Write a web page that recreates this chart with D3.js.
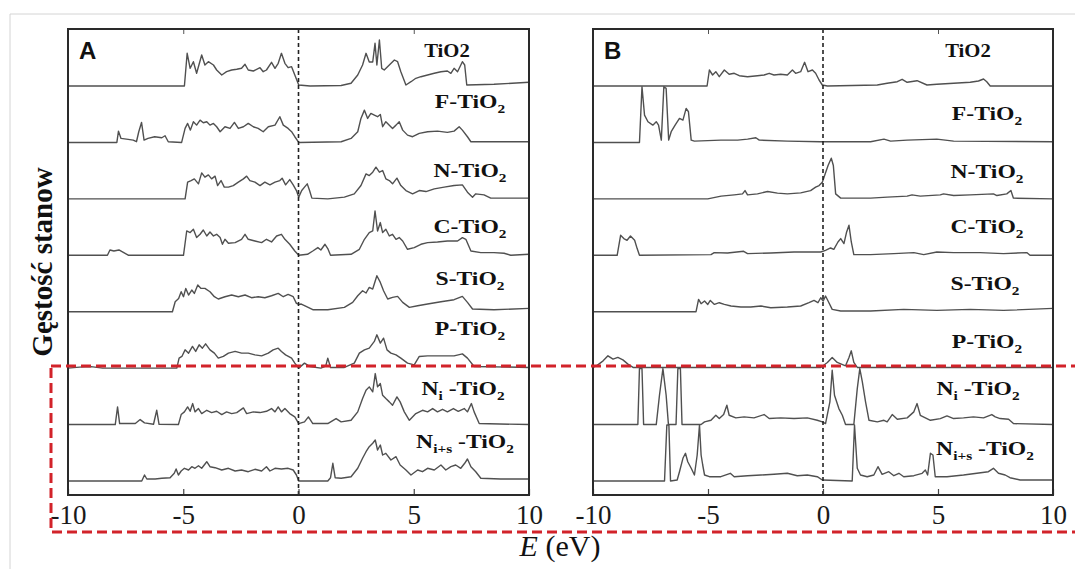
<!DOCTYPE html>
<html>
<head>
<meta charset="utf-8">
<script src="https://cdn.jsdelivr.net/npm/d3@7"></script>
<style>
  body { margin: 0; background: #fff; }
  svg { display: block; }
</style>
</head>
<body>
<div class="chart"></div>
<script>
// energy axis ticks
var energyTicks = [-10, -5, 0, 5, 10];

// series names, top to bottom (parts: text + subscript flag)
var seriesLabels = [
    [["TiO2", false]],
    [["F-TiO", false], ["2", true]],
    [["N-TiO", false], ["2", true]],
    [["C-TiO", false], ["2", true]],
    [["S-TiO", false], ["2", true]],
    [["P-TiO", false], ["2", true]],
    [["N", false], ["i", true], [" -TiO", false], ["2", true]],
    [["N", false], ["i+s", true], [" -TiO", false], ["2", true]]
];

// panel A: [E (eV), DOS (a.u.)]
var A_TiO2 = [[-10,0],[-4.95,0],[-4.83,32.7],[-4.70,17.7],[-4.56,24.3],[-4.42,12.7],[-4.20,31],[-4.06,21],[-3.91,24.3],[-3.69,21],[-3.55,16],[-3.33,11],[-3.12,14.3],[-2.90,16],[-2.68,16.7],[-2.47,17.7],[-2.32,21.7],[-2.18,16],[-1.96,15],[-1.67,18.3],[-1.53,14.3],[-1.39,16],[-1.17,23.7],[-1.02,17.7],[-0.88,22.7],[-0.74,32.7],[-0.59,22.7],[-0.45,18.3],[-0.30,19.3],[-0.16,11],[0.01,1],[0.5,0],[1.85,0.5],[2.28,2.7],[2.57,11],[2.78,21],[2.93,32.7],[3.07,24],[3.22,24],[3.32,42.7],[3.40,21],[3.51,46],[3.61,17.7],[3.72,16],[3.94,21],[4.16,26],[4.30,24.3],[4.44,14.3],[4.66,1],[4.88,4.3],[5.09,7.7],[5.31,9.3],[5.60,11],[5.89,12.7],[6.18,14.3],[6.46,15],[6.61,12.7],[6.75,17.7],[6.90,14.3],[7.11,24.3],[7.21,21],[7.30,1],[8.48,1.7],[10,3.7]];
var A_F = [[-10,0],[-7.88,0],[-7.81,11.3],[-7.70,4],[-7.39,3],[-7.17,2.3],[-7.03,0.7],[-6.93,10.7],[-6.81,20],[-6.70,2.3],[-6.53,4],[-6.24,5.7],[-5.93,4.7],[-5.79,6.7],[-5.65,0.7],[-5.07,0],[-4.92,14],[-4.81,19],[-4.69,12.3],[-4.56,20.7],[-4.42,17.3],[-4.27,22.3],[-4.13,19.7],[-3.98,20.7],[-3.84,17.3],[-3.69,19],[-3.55,15.7],[-3.40,10.7],[-3.19,15.7],[-2.97,14],[-2.78,20],[-2.61,14],[-2.39,15.7],[-2.18,19],[-1.96,15.7],[-1.75,14],[-1.53,10.7],[-1.31,15.7],[-1.02,17.3],[-0.81,25.7],[-0.66,17.3],[-0.45,14],[-0.30,10.7],[-0.16,5.7],[0.01,0],[1.85,0.7],[2.28,4],[2.57,10.7],[2.71,24],[2.86,32.3],[3.00,24],[3.14,29],[3.29,27.3],[3.43,25.7],[3.55,28],[3.65,15.7],[3.79,20.7],[3.94,17.3],[4.08,14],[4.23,17.3],[4.37,20.7],[4.52,12.3],[4.73,7.3],[4.95,5.7],[5.24,9],[5.60,10.7],[6.03,11.3],[6.46,10],[6.75,11.3],[6.97,15.7],[7.11,12.3],[7.33,5.7],[7.48,0.7],[10,0.7]];
var A_N = [[-10,0],[-4.92,0],[-4.81,16.7],[-4.66,18.3],[-4.52,20],[-4.34,15],[-4.20,26],[-4.06,21.7],[-3.91,24],[-3.77,20],[-3.62,22.7],[-3.51,13.3],[-3.36,18.3],[-3.22,11.7],[-3.04,11.7],[-2.83,13.3],[-2.61,16.7],[-2.39,20],[-2.25,22.7],[-2.11,18.3],[-1.89,16.7],[-1.67,13.3],[-1.46,16.7],[-1.24,14],[-1.02,16.7],[-0.81,18.3],[-0.71,20.7],[-0.56,14],[-0.38,19.3],[-0.23,14],[-0.09,8.3],[0.01,1.7],[0.14,8.3],[0.26,11.7],[0.38,15],[0.48,8.3],[0.58,0.7],[1.27,0],[1.99,1.7],[2.42,5],[2.71,13.3],[2.93,25],[3.07,23.3],[3.22,26.7],[3.36,31.7],[3.51,26.7],[3.65,28.3],[3.79,20],[3.94,18.3],[4.08,15],[4.27,20.7],[4.44,13.3],[4.66,8.3],[4.95,5],[5.24,8.3],[5.53,7.3],[5.89,10],[6.32,11.7],[6.75,13.3],[7.11,14],[7.33,6.7],[7.55,1.7],[7.69,5],[8.05,4],[8.34,0.7],[10,0.7]];
var A_C = [[-10,0],[-8.29,0],[-8.18,5.3],[-8.01,4.3],[-7.79,5.3],[-7.58,2.7],[-7.37,0],[-4.99,0],[-4.85,24.3],[-4.70,22.7],[-4.56,26],[-4.42,17.7],[-4.27,21],[-4.13,25.3],[-3.98,19.3],[-3.84,23.3],[-3.69,19.3],[-3.55,21],[-3.40,17.7],[-3.30,11],[-3.19,16],[-3.04,12],[-2.75,12.7],[-2.47,16],[-2.32,21],[-2.18,16],[-1.89,14.3],[-1.60,12.7],[-1.39,16],[-1.17,13.3],[-0.95,19.3],[-0.74,21],[-0.59,16],[-0.38,11],[-0.16,4.3],[0.01,0],[0.39,1],[0.62,4.3],[0.84,7.7],[0.97,5.3],[1.15,11],[1.27,6.7],[1.39,0],[2.28,1],[2.64,6],[2.86,16],[3.07,22.7],[3.22,24.3],[3.32,44.3],[3.43,24.3],[3.55,32.7],[3.65,22.7],[3.79,26],[3.94,19.3],[4.08,21],[4.23,16],[4.37,17.7],[4.52,14.3],[4.73,6],[5.02,7.7],[5.31,11],[5.60,12.7],[6.03,13.3],[6.46,14.3],[6.90,14.3],[7.11,17.7],[7.26,16],[7.48,4.3],[7.91,2.7],[8.48,2.7],[8.92,2],[9.21,0],[10,1]];
var A_S = [[-10,0],[-5.47,0],[-5.35,10],[-5.20,13.3],[-5.09,20],[-4.99,15],[-4.89,23.3],[-4.77,16.7],[-4.63,21.7],[-4.52,18.3],[-4.37,26.7],[-4.23,23.3],[-4.06,23.3],[-3.84,20],[-3.65,15],[-3.48,12.7],[-3.19,15],[-2.90,16.7],[-2.61,15],[-2.32,16.7],[-2.04,14],[-1.75,15],[-1.46,14],[-1.17,16],[-0.88,18.3],[-0.66,15],[-0.45,17.3],[-0.23,15],[-0.09,8.3],[0.01,7.3],[0.12,7.7],[0.33,5.3],[0.62,2],[1.27,2],[1.99,4.3],[2.35,9.3],[2.57,16],[2.78,21],[2.93,18.7],[3.07,24.3],[3.22,22.7],[3.40,36],[3.55,29.3],[3.69,21],[3.87,12.7],[4.08,14.3],[4.30,15.3],[4.52,9.3],[4.81,4.3],[5.17,6],[5.60,7.7],[6.18,10],[6.75,12],[7.11,15.3],[7.33,9.3],[7.55,2.7],[8.48,2],[10,3.3]];
var A_P = [[-10,0],[-9.5,1],[-9.0,1.5],[-8.5,0],[-5.28,0],[-5.18,10],[-5.06,11.7],[-4.92,18.3],[-4.77,15],[-4.60,21.7],[-4.46,16.7],[-4.31,23.3],[-4.17,20],[-4.03,24.3],[-3.84,18.3],[-3.65,15],[-3.48,10],[-3.26,11.7],[-3.04,15],[-2.75,16.7],[-2.47,15],[-2.18,15],[-1.89,13.3],[-1.60,12.3],[-1.31,15],[-1.10,18.3],[-0.88,20],[-0.74,16.7],[-0.56,13.3],[-0.30,10],[-0.16,5],[0.01,0],[0.26,5],[0.48,1.7],[0.97,0],[1.18,2],[1.27,10],[1.39,0.7],[1.99,0.7],[2.42,5],[2.64,15],[2.86,18.3],[3.07,20],[3.29,26.7],[3.40,33.3],[3.55,25],[3.69,30],[3.84,18.3],[4.01,15],[4.23,13.3],[4.44,10],[4.73,5],[5.02,3.3],[5.24,11.7],[5.60,12.3],[6.18,12.3],[6.75,12.3],[7.11,14.3],[7.33,10],[7.62,1.7],[10,0.7]];
var A_Ni = [[-10,0],[-7.95,0],[-7.85,17.7],[-7.76,1],[-7.08,1],[-6.87,5],[-6.68,1.7],[-6.29,0.3],[-6.15,14.3],[-6.05,0.3],[-5.21,0],[-5.09,10],[-4.95,12.7],[-4.81,17.7],[-4.70,13.3],[-4.59,21],[-4.49,12.7],[-4.34,16],[-4.20,11],[-3.98,14.3],[-3.77,12],[-3.55,13.3],[-3.33,10],[-3.12,12.7],[-2.90,11],[-2.68,12],[-2.39,16.7],[-2.25,11],[-1.96,12.7],[-1.67,12],[-1.39,13.3],[-1.17,16],[-1.02,12.7],[-0.88,17.7],[-0.74,12.7],[-0.59,16],[-0.38,11],[-0.16,7.7],[0.01,1],[0.26,2.7],[0.43,7.7],[0.62,1],[1.27,1],[1.63,6],[1.85,2.7],[2.28,4.3],[2.57,12.7],[2.78,26],[2.93,34.3],[3.07,37.7],[3.22,32.7],[3.33,51],[3.43,37.7],[3.55,41],[3.65,29.3],[3.79,26],[3.94,22.7],[4.08,19.3],[4.27,27.7],[4.41,22.7],[4.59,12.7],[4.81,4.3],[5.09,11],[5.38,14.3],[5.60,12.7],[5.82,16],[6.03,12.7],[6.25,15.3],[6.46,12.7],[6.72,16],[6.93,13.3],[7.19,16],[7.33,12.7],[7.50,21],[7.62,12.7],[7.84,1],[10,0]];
var A_Nis = [[-10,0],[-6.80,0],[-6.68,6],[-6.58,2],[-6.22,2],[-5.93,2.7],[-5.57,3.3],[-5.39,7.7],[-5.31,12],[-5.21,6],[-5.09,10],[-4.95,12.7],[-4.77,11],[-4.63,14.3],[-4.49,12.7],[-4.34,15.3],[-4.20,12.7],[-3.98,19.3],[-3.84,14.3],[-3.62,13.3],[-3.33,11],[-3.04,12.7],[-2.75,10],[-2.47,11],[-2.18,9.3],[-1.89,11.7],[-1.60,10],[-1.39,14.3],[-1.24,10],[-1.02,12.7],[-0.74,12],[-0.45,12.7],[-0.23,11],[-0.09,6],[0.01,0],[1.27,0],[1.39,3.3],[1.49,17.7],[1.59,3.3],[1.85,2.7],[2.28,4.3],[2.57,12.7],[2.78,22.7],[2.93,29.3],[3.07,34.3],[3.22,37.7],[3.33,41],[3.43,31],[3.55,36],[3.65,26],[3.79,27.7],[4.01,21],[4.23,24.3],[4.41,16],[4.66,11],[4.88,6],[5.17,11],[5.38,9.3],[5.60,12.7],[5.89,11],[6.18,16],[6.39,11],[6.61,14.3],[6.82,16],[7.04,12.7],[7.21,17.7],[7.33,22],[7.48,14.3],[7.69,9.3],[7.91,2.7],[8.77,2],[10,2]];

// panel B: [E (eV), DOS (a.u.)]
var B_TiO2 = [[-10,0],[-5.04,0],[-4.94,16],[-4.80,11],[-4.66,14.3],[-4.51,9.3],[-4.29,16],[-4.08,11.7],[-3.86,12.7],[-3.64,10.3],[-3.28,9.3],[-2.85,10.3],[-2.56,11],[-2.34,12.7],[-2.13,11],[-1.84,11.7],[-1.55,11],[-1.33,16],[-1.19,12.7],[-0.97,14.3],[-0.80,23.7],[-0.65,14.3],[-0.46,16],[-0.32,12.7],[-0.17,6],[-0.03,1],[0.19,0],[2.36,1],[2.79,2.7],[3.23,4.3],[3.44,6.7],[3.66,3.7],[4.09,5.3],[4.52,1],[4.95,1.7],[5.68,2.7],[6.40,3.7],[6.76,5],[6.98,7],[7.12,4.3],[7.27,0],[10,0]];
var B_F = [[-10,0],[-7.98,0],[-7.87,55.7],[-7.76,27.3],[-7.61,20.7],[-7.40,17.3],[-7.25,20.7],[-7.15,17.3],[-7.03,2.3],[-6.92,55.7],[-6.82,54],[-6.71,2.3],[-6.60,10.7],[-6.43,17.3],[-6.24,24],[-6.09,22.3],[-5.95,34],[-5.85,30.7],[-5.73,2.3],[-5.59,1.3],[-4.44,2.3],[-3.71,2.3],[-3.28,3.3],[-2.92,4.7],[-2.77,2.3],[-1.55,1.3],[-0.11,0.7],[2.07,0.7],[2.65,3.3],[2.94,1.3],[3.66,2.3],[4.95,3.3],[5.68,1.3],[10,0.7]];
var B_N = [[-10,0],[-5.01,0],[-4.43,2.7],[-3.86,4],[-3.50,5],[-3.39,8.3],[-3.28,4],[-2.85,5],[-2.41,7.3],[-1.98,5.7],[-1.55,5],[-0.97,6],[-0.54,8.3],[-0.32,11.7],[-0.17,13.3],[-0.03,16.7],[0.07,23.3],[0.22,33.3],[0.36,40.7],[0.45,33.3],[0.55,5],[0.77,0.7],[2.07,0.7],[2.79,1.7],[3.66,2.7],[3.87,4],[4.23,2.7],[5.10,4],[5.24,5],[5.68,3.3],[6.40,4],[7.41,5],[7.56,3.3],[7.99,5],[8.17,8.3],[8.28,0.7],[10,0]];
var B_C = [[-10,0],[-8.95,0],[-8.80,20],[-8.66,16.7],[-8.52,15],[-8.37,19.3],[-8.19,15],[-8.08,6.7],[-7.98,0],[-4.87,0.7],[-4.73,2.7],[-4.15,2.3],[-3.45,4],[-3.28,1.7],[-2.27,2.3],[-1.26,3.3],[-0.10,3.3],[0.11,5],[0.33,7.3],[0.47,6],[0.65,13.3],[0.77,16.7],[0.91,11.7],[1.02,22.7],[1.13,30],[1.23,13.3],[1.34,0.7],[2.07,0.7],[3.08,1.7],[3.95,2.7],[4.38,0.7],[4.95,3.3],[5.68,2.7],[6.83,2.7],[7.85,1.7],[8.86,2.7],[9.00,0],[10,0]];
var B_S = [[-10,0],[-5.52,0],[-5.41,12.3],[-5.30,8],[-5.15,10.7],[-5.01,7.3],[-4.90,11.3],[-4.72,7.3],[-4.51,9],[-4.29,7.3],[-4.00,5.7],[-3.57,4.7],[-3.14,4.7],[-2.70,5.7],[-2.27,4],[-1.55,4.7],[-0.97,5.7],[-0.61,9],[-0.39,11.3],[-0.22,9],[-0.10,14],[0.01,10.7],[0.11,15.7],[0.22,10.7],[0.40,2.3],[0.77,0.7],[2.07,0.7],[3.51,2.3],[4.95,1.3],[6.40,2.3],[7.85,1.3],[10,3.3]];
var B_P = [[-10,0.7],[-9.85,2.3],[-9.56,7.3],[-9.35,12.3],[-9.13,9],[-8.92,10.7],[-8.70,8.3],[-8.48,4],[-8.26,0.7],[-0.10,0.7],[0.19,5.7],[0.40,10.7],[0.62,5.7],[0.98,2.3],[1.13,10.7],[1.23,17.3],[1.34,5.7],[1.49,0.7],[10,0.7]];
var B_Ni = [[-10,0],[-8.05,0],[-7.98,56],[-7.87,56],[-7.80,0],[-7.25,0],[-7.11,29.3],[-6.96,56],[-6.82,29.3],[-6.72,0],[-6.39,0],[-6.31,56],[-6.20,56],[-6.13,0],[-5.30,0],[-5.15,2.7],[-4.87,4.3],[-4.66,9.3],[-4.51,6],[-4.32,10],[-4.18,19.3],[-4.08,9.3],[-3.79,6.7],[-3.43,7.7],[-3.00,6.7],[-2.56,10],[-2.34,6],[-1.84,6.7],[-1.26,6],[-0.68,6.7],[-0.25,4.3],[-0.03,2.7],[0.11,1],[0.30,22.7],[0.40,54.3],[0.50,29.3],[0.69,16],[0.84,9.3],[0.98,0],[1.34,0],[1.49,36],[1.60,56],[1.71,42.7],[1.85,22.7],[2.00,4.3],[2.36,2.7],[2.65,4.3],[2.79,2.7],[3.01,10],[3.23,5.3],[3.66,6.7],[3.95,12.7],[4.09,21],[4.23,9.3],[4.67,4.3],[5.10,6],[5.39,8.7],[5.68,6],[6.11,6.7],[6.54,7.7],[6.98,6.7],[7.34,10],[7.49,7.7],[7.70,6],[8.07,5.3],[8.28,1],[10,0]];
var B_Nis = [[-10,0],[-6.89,0],[-6.79,56],[-6.70,56],[-6.63,0],[-6.34,1],[-6.24,9.3],[-6.09,22.7],[-5.98,27.7],[-5.88,19.3],[-5.73,12.7],[-5.59,6],[-5.47,26],[-5.37,56],[-5.30,26],[-5.23,16],[-5.15,6],[-4.94,4.3],[-4.44,4.3],[-4.03,7.7],[-3.86,4.3],[-3.28,5.3],[-2.70,6],[-2.13,6.7],[-1.55,7.7],[-1.12,5.3],[-0.68,6],[-0.25,4.3],[-0.03,1],[1.27,0],[1.37,56],[1.49,12.7],[1.63,6],[1.92,4.3],[2.21,6],[2.39,14.3],[2.57,6.7],[2.86,9.3],[3.08,5.3],[3.30,7.7],[3.51,4.3],[3.95,5.3],[4.31,7.7],[4.45,11],[4.55,6],[4.67,27.7],[4.78,26],[4.88,4.3],[5.39,4.3],[6.11,6],[6.69,7.7],[7.19,9.3],[7.41,12.7],[7.63,7.7],[7.92,6],[8.13,3.3],[8.57,1],[10,1]];

var panelA = [A_TiO2, A_F, A_N, A_C, A_S, A_P, A_Ni, A_Nis];
var panelB = [B_TiO2, B_F, B_N, B_C, B_S, B_P, B_Ni, B_Nis];

var svgWidth = 1075, svgHeight = 569;

var svg = d3.select(".chart")
    .append("svg")
    .attr("width", svgWidth)
    .attr("height", svgHeight)
    .style("background", "#fff");

// light frame of the scanned figure
svg.append("path")
    .attr("d", "M10,569 L10,14 L1075,14")
    .attr("fill", "none")
    .attr("stroke", "#d4d4d4")
    .attr("stroke-width", 1);

// note: "top" is taken by window.top, so use other names
var plotTop = 29, plotBottom = 495;

// curves sit on evenly spaced baselines
var baseline = d3.scalePoint().domain(d3.range(8)).range([86, 481]);
var dosScale = d3.scaleLinear().domain([0, 60]).range([0, 60]);

var panels = [
    { name: "A", left: 68, right: 529, data: panelA,
      labels: [[447,57,1.12],[470,108,1.28],[470,177,1.28],[470,233,1.28],[470,285,1.28],[470,335,1.28],[463,395,1.28],[465,448,1.28]] },
    { name: "B", left: 593, right: 1053, data: panelB,
      labels: [[968,57,1.12],[987,120,1.28],[987,178,1.28],[987,233,1.28],[985,290,1.28],[987,348,1.28],[978,395,1.28],[985,455,1.28]] }
];

panels.forEach(function(p) {
    var x = d3.scaleLinear().domain([-10, 10]).range([p.left, p.right]);
    var g = svg.append("g");

    // DOS curves
    p.data.forEach(function(series, i) {
        var line = d3.line()
            .x(d => x(d[0]))
            .y(d => baseline(i) - dosScale(d[1]));
        g.append("path")
            .datum(series)
            .attr("d", line)
            .attr("fill", "none")
            .attr("stroke", "#505050")
            .attr("stroke-width", 1.4)
            .attr("stroke-linejoin", "round");
    });

    // Fermi level
    g.append("line")
        .attr("x1", x(0)).attr("x2", x(0))
        .attr("y1", plotTop).attr("y2", plotBottom)
        .attr("stroke", "#222")
        .attr("stroke-width", 1.6)
        .attr("stroke-dasharray", "4,3");

    // axes
    var xAxis = d3.axisBottom(x)
        .tickValues(energyTicks)
        .tickSize(-6)
        .tickFormat(d => String(d));
    var axG = g.append("g")
        .attr("transform", `translate(0,${plotBottom})`)
        .call(xAxis);
    axG.select(".domain").remove();
    axG.selectAll(".tick line").attr("stroke", "#444").attr("stroke-width", 1.2);
    axG.selectAll(".tick text")
        .attr("y", 29)
        .attr("dy", null)
        .attr("fill", "#1a1a1a")
        .style("font-family", "'Liberation Serif', 'Times New Roman', serif")
        .style("font-size", "27px");

    var topAxis = d3.axisTop(x).tickValues([-5, 5]).tickSize(-5).tickFormat("");
    var tG = g.append("g")
        .attr("transform", `translate(0,${plotTop})`)
        .call(topAxis);
    tG.select(".domain").remove();
    tG.selectAll(".tick line").attr("stroke", "#555").attr("stroke-width", 1);

    // frame
    g.append("rect")
        .attr("x", p.left).attr("y", plotTop)
        .attr("width", p.right - p.left)
        .attr("height", plotBottom - plotTop)
        .attr("fill", "none")
        .attr("stroke", "#2a2a2a")
        .attr("stroke-width", 2);

    // panel letter
    g.append("text")
        .attr("x", p.left + 11)
        .attr("y", 59)
        .style("font-family", "'Liberation Sans', Arial, sans-serif")
        .style("font-weight", "bold")
        .style("font-size", "24px")
        .attr("fill", "#111")
        .text(p.name);

    // series labels
    seriesLabels.forEach(function(parts, i) {
        var pos = p.labels[i];
        var t = g.append("text")
            .attr("transform", `translate(${pos[0]},${pos[1]}) scale(${pos[2]},1)`)
            .attr("text-anchor", "middle")
            .style("font-family", "'Liberation Serif', 'Times New Roman', serif")
            .style("font-weight", "bold")
            .style("font-size", "18.5px")
            .attr("fill", "#111");
        parts.forEach(function(part) {
            var ts = t.append("tspan").text(part[0]);
            if (part[1]) {
                ts.attr("dy", 5).style("font-size", "12px");
            } else {
                ts.attr("dy", t.selectAll("tspan").size() > 1 ? -5 : 0);
            }
        });
    });
});

// y label
svg.append("text")
    .attr("transform", "translate(52,262) rotate(-90)")
    .attr("text-anchor", "middle")
    .style("font-family", "'Liberation Serif', 'Times New Roman', serif")
    .style("font-weight", "bold")
    .style("font-size", "29px")
    .attr("fill", "#111")
    .text("Gęstość stanow");

// x label
var xl = svg.append("text")
    .attr("x", 560)
    .attr("y", 556)
    .attr("text-anchor", "middle")
    .style("font-family", "'Liberation Serif', 'Times New Roman', serif")
    .style("font-size", "30px")
    .attr("fill", "#111");
xl.append("tspan").style("font-style", "italic").text("E");
xl.append("tspan").text(" (eV)");

// highlight of the nitrogen-doped cases
svg.append("rect")
    .attr("x", 51).attr("y", 366)
    .attr("width", 1040).attr("height", 166)
    .attr("fill", "none")
    .attr("stroke", "#d2232a")
    .attr("stroke-width", 3)
    .attr("stroke-dasharray", "10,5");
</script>
</body>
</html>
